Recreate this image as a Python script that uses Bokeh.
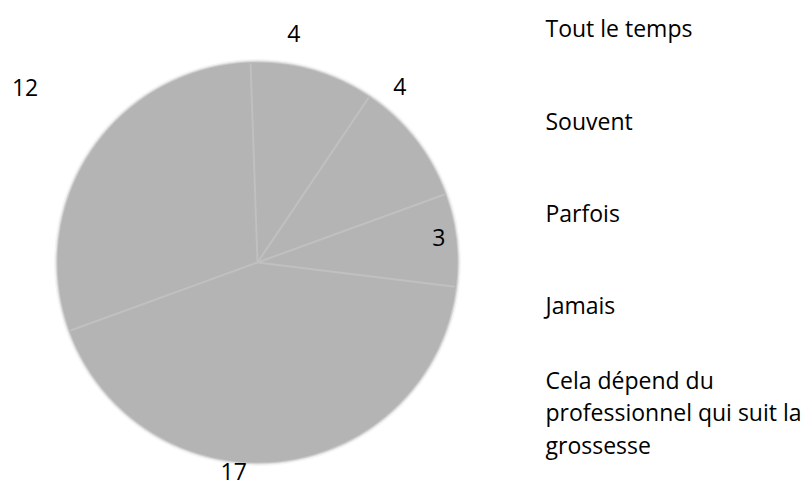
import math
from bokeh.plotting import figure
from bokeh.models import Range1d, ColumnDataSource
from bokeh.core.properties import value
from bokeh.embed import file_html
from bokeh.resources import INLINE

# ---- data ----
categories = ["Tout le temps", "Souvent", "Parfois", "Jamais",
              "Cela dépend du\nprofessionnel qui suit la\ngrossesse"]
counts = [4, 4, 3, 17, 12]

# ---- layout / style ----
W, H = 806, 487
CX, CY, R = 257, 225, 200
START_DEG = 92.0
FILL = "#b4b4b4"
SEP = "#c0c0c0"
FONT = "Open Sans"
FS = "23px"
label_deg = [81, 51, 8, -96.5, 143]
label_r = [232, 226, 183, 210, 291]
legend_x = 545
legend_y = [460, 367, 275, 183, 75]

total = sum(counts)
starts, ends = [], []
acc = 0
for c in counts:
    s = math.radians(START_DEG - acc * 360.0 / total)
    acc += c
    e = math.radians(START_DEG - acc * 360.0 / total)
    starts.append(s)
    ends.append(e)

p = figure(width=W, height=H, x_range=Range1d(0, W), y_range=Range1d(0, H),
           output_backend="svg", toolbar_location=None, min_border=0,
           tools="")
p.axis.visible = False
p.grid.visible = False
p.outline_line_color = None
p.background_fill_color = "white"
p.border_fill_color = "white"

# soft edge
for rr, a in [(203.5, 0.15), (202, 0.3), (201, 0.55)]:
    p.circle(x=[CX], y=[CY], radius=rr, fill_color=FILL, fill_alpha=a,
             line_color=None)

src = ColumnDataSource(dict(start=starts, end=ends, cat=categories, n=counts))
p.wedge(x=CX, y=CY, radius=R, start_angle="start", end_angle="end",
        direction="clock", fill_color=FILL, line_color=None, source=src)

# separators
for a in starts:
    p.line(x=[CX, CX + (R - 1) * math.cos(a)], y=[CY, CY + (R - 1) * math.sin(a)],
           line_color=SEP, line_width=2)

# data labels
lx = [CX + r * math.cos(math.radians(d)) for d, r in zip(label_deg, label_r)]
ly = [CY + r * math.sin(math.radians(d)) for d, r in zip(label_deg, label_r)]
p.text(x=lx, y=ly, text=[str(c) for c in counts], text_align="center",
       text_baseline="middle", text_font=value(FONT), text_font_size=FS,
       text_color="black")

# legend texts
p.text(x=[legend_x] * len(categories), y=legend_y, text=categories,
       text_align="left", text_baseline="middle", text_font=value(FONT),
       text_font_size=FS, text_color="black", text_line_height=1.03)

open("out.html", "w").write(file_html(p, INLINE))
